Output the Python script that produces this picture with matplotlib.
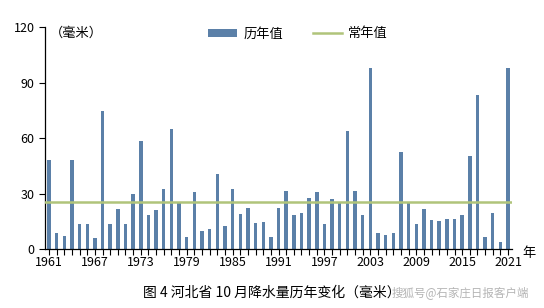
import numpy as np
import matplotlib
matplotlib.use("Agg")
import matplotlib.pyplot as plt

plt.rcParams['font.family'] = ['Noto Sans CJK SC', 'DejaVu Sans']

# October precipitation in Hebei, 1961-2021 (mm)
years = np.arange(1961, 2022)
rain = [48.4, 8.6, 7.4, 48.4, 13.5, 13.5, 6.1, 74.6, 13.8, 21.8,
        13.8, 30.0, 58.6, 18.7, 21.2, 32.5, 64.9, 25.4, 6.7, 30.8,
        9.9, 11.0, 40.6, 12.8, 32.7, 19.0, 22.3, 14.2, 14.7, 6.7,
        22.3, 31.3, 18.7, 19.8, 27.9, 30.9, 13.8, 27.2, 25.4, 64.0,
        31.5, 18.7, 98.0, 8.8, 7.9, 8.8, 52.5, 25.4, 13.8, 21.8,
        16.0, 15.3, 16.4, 16.4, 18.5, 50.5, 83.5, 6.7, 19.6, 4.0,
        97.8]
normal = 25.4
xtick_years = list(range(1961, 2022, 6))
yticks = [0, 30, 60, 90, 120]

bar_color = '#5b80a8'
line_color = '#b0c47a'

fig = plt.figure(figsize=(5.44, 3.08), dpi=100)
ax = fig.add_axes([0.083, 0.1906, 0.858, 0.7214])

bars = ax.bar(years, rain, width=0.45, color=bar_color, zorder=2)
line = ax.axhline(normal, color=line_color, lw=1.8, zorder=3)

ax.set_xlim(1960.5, 2021.5)
ax.set_ylim(0, 120)
ax.set_yticks(yticks)
ax.set_xticks(years, minor=True)
ax.set_xticks(xtick_years)
ax.tick_params(axis='both', which='major', labelsize=9, length=4, width=0.8,
               direction='out', colors='black')
ax.tick_params(axis='x', which='minor', length=4, width=0.8, direction='out')
ax.tick_params(axis='x', pad=1)

for s in ['top', 'right']:
    ax.spines[s].set_visible(False)
for s in ['left', 'bottom']:
    ax.spines[s].set_linewidth(0.9)
    ax.spines[s].set_color('black')

fig.legend([bars, line], ['历年值', '常年值'], loc='center',
           bbox_to_anchor=(0.548, 0.89), ncol=2, frameon=False,
           fontsize=9.5, handlelength=2.2, handleheight=0.6, columnspacing=2.2,
           handletextpad=0.5)

fig.text(50 / 544, 1 - 33 / 308, '（毫米）', fontsize=9.5, va='center', ha='left')
fig.text(529 / 544, 1 - 254 / 308, '年', fontsize=9.5, va='center', ha='center')
fig.text(143 / 544, 1 - 293 / 308, '图 4 河北省 10 月降水量历年变化（毫米）',
         fontsize=10, va='center', ha='left')
fig.text(392 / 544, 1 - 293 / 308, '搜狐号@石家庄日报客户端',
         fontsize=8.3, va='center', ha='left', color='#b4b4b4')

fig.savefig('out.png', dpi=100)
